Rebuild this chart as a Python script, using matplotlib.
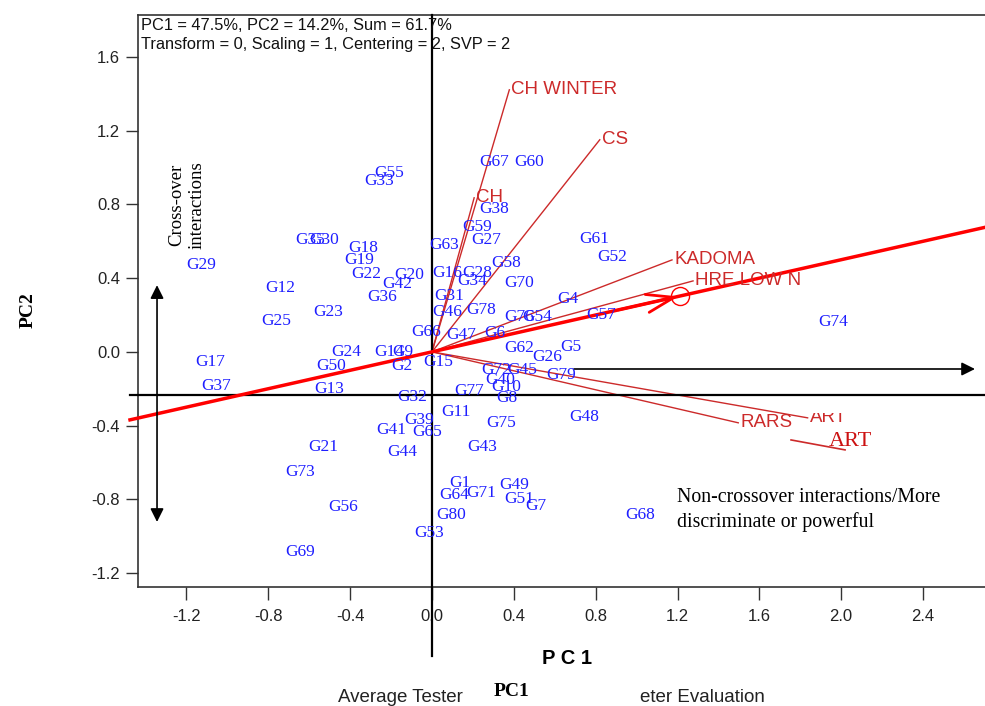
import numpy as np
import matplotlib
matplotlib.use("Agg")
import matplotlib.pyplot as plt
from matplotlib.patches import Rectangle
from matplotlib.ticker import FormatStrFormatter

plt.rcParams['font.family'] = ['Liberation Sans', 'DejaVu Sans']

# genotype scores (PC1, PC2)
geno = ['G67', 'G60', 'G55', 'G33', 'G38', 'G59', 'G27', 'G63', 'G35', 'G30',
        'G18', 'G19', 'G22', 'G20', 'G42', 'G36', 'G12', 'G25', 'G23', 'G16',
        'G28', 'G34', 'G58', 'G70', 'G31', 'G46', 'G78', 'G66', 'G24', 'G14',
        'G9', 'G2', 'G15', 'G50', 'G13', 'G32', 'G4', 'G76', 'G54', 'G57',
        'G62', 'G26', 'G5', 'G72', 'G45', 'G79', 'G40', 'G10', 'G77', 'G8',
        'G11', 'G48', 'G75', 'G43', 'G39', 'G41', 'G65', 'G21', 'G44', 'G73',
        'G1', 'G64', 'G71', 'G49', 'G51', 'G7', 'G56', 'G80', 'G53', 'G69',
        'G29', 'G17', 'G37', 'G74', 'G61', 'G52', 'G68', 'G47', 'G6']
gx = [0.304, 0.476, -0.211, -0.260, 0.304, 0.221, 0.265, 0.059, -0.594, -0.525,
      -0.334, -0.358, -0.319, -0.113, -0.172, -0.245, -0.741, -0.761, -0.506, 0.074,
      0.221, 0.196, 0.363, 0.427, 0.083, 0.074, 0.240, -0.029, -0.417, -0.211,
      -0.142, -0.147, 0.029, -0.491, -0.501, -0.098, 0.663, 0.427, 0.515, 0.829,
      0.427, 0.564, 0.677, 0.314, 0.442, 0.633, 0.334, 0.363, 0.182, 0.368,
      0.118, 0.746, 0.339, 0.245, -0.064, -0.201, -0.025, -0.530, -0.147, -0.643,
      0.137, 0.108, 0.240, 0.402, 0.427, 0.506, -0.432, 0.093, -0.015, -0.643,
      -1.129, -1.085, -1.055, 1.963, 0.795, 0.883, 1.016, 0.142, 0.309]
gy = [1.031, 1.031, 0.972, 0.928, 0.776, 0.679, 0.608, 0.581, 0.608, 0.608,
      0.565, 0.499, 0.423, 0.418, 0.369, 0.299, 0.347, 0.168, 0.217, 0.429,
      0.429, 0.385, 0.483, 0.375, 0.304, 0.217, 0.228, 0.109, 0.0, 0.0,
      0.0, -0.076, -0.054, -0.076, -0.201, -0.244, 0.288, 0.190, 0.190, 0.201,
      0.022, -0.027, 0.027, -0.098, -0.098, -0.125, -0.152, -0.190, -0.212, -0.250,
      -0.326, -0.353, -0.385, -0.516, -0.369, -0.423, -0.434, -0.516, -0.543, -0.651,
      -0.711, -0.776, -0.765, -0.722, -0.798, -0.836, -0.841, -0.885, -0.983, -1.086,
      0.472, -0.054, -0.185, 0.163, 0.613, 0.516, -0.885, 0.092, 0.103]

# environment vectors
env = ['CH WINTER', 'CH', 'CS', 'KADOMA', 'HRE LOW N', 'RARS', 'ART']
ex = [0.378, 0.206, 0.820, 1.173, 1.276, 1.497, 1.836]
ey = [1.422, 0.836, 1.151, 0.499, 0.385, -0.385, -0.358]

aea_slope = 0.25      # average environment axis
aea_pc1 = 1.21        # average environment position

xticks = np.arange(-1.2, 2.41, 0.4)
yticks = np.arange(-1.2, 1.61, 0.4)

W, H = 985, 706
fig = plt.figure(figsize=(W / 100, H / 100), dpi=100)
ax = fig.add_axes([138 / W, 1 - 587 / H, (W - 138) / W, (587 - 15) / H])
ax.set_xlim(-1.437, 2.703)
ax.set_ylim(-1.276, 1.828)
ax.spines['right'].set_visible(False)
for s in ['top', 'left', 'bottom']:
    ax.spines[s].set_color('#333333')
    ax.spines[s].set_linewidth(1.2)
ax.set_xticks(xticks)
ax.set_yticks(yticks)
ax.xaxis.set_major_formatter(FormatStrFormatter('%.1f'))
ax.yaxis.set_major_formatter(FormatStrFormatter('%.1f'))
ax.tick_params(direction='out', length=9, width=1, color='#333333', labelsize=12,
               labelcolor='#222222')
ax.tick_params(axis='x', pad=7)
ax.tick_params(axis='y', pad=4)

# PC axes through origin
ax.plot([0, 0], [1.828, -1.65], color='black', lw=1.6, clip_on=False, zorder=3)
ax.plot([-1.476, 2.703], [-0.234, -0.234], color='black', lw=1.6, clip_on=False, zorder=3)

# environment vectors
red = '#cc2a2a'
for name, x, y in zip(env, ex, ey):
    ax.plot([0, x], [0, y], color=red, lw=1, zorder=2)
    ax.text(x + 0.01, y, name, color=red, fontsize=13.5, ha='left', va='center', zorder=4)
# part of the lower ART label is hidden
ax.add_patch(Rectangle((1.86, -0.331), 0.2, 0.085, facecolor='white', edgecolor='none', zorder=5))

# average environment axis
ax.plot([-1.476, 2.703], [aea_slope * -1.476, aea_slope * 2.703], color='red', lw=2.5,
        clip_on=False, zorder=3)
ax.annotate('', xy=(aea_pc1 - 0.006, aea_slope * (aea_pc1 - 0.006)),
            xytext=(aea_pc1 - 0.3, aea_slope * (aea_pc1 - 0.3)),
            arrowprops=dict(arrowstyle='->,head_length=0.9,head_width=0.3', color='red',
                            lw=2, mutation_scale=22, shrinkA=0, shrinkB=0), zorder=3)
ax.plot(aea_pc1, aea_slope * aea_pc1, 'o', mfc='none', mec='red', ms=13, mew=1, zorder=3)

# genotypes
for name, x, y in zip(geno, gx, gy):
    ax.text(x, y, name, color='#1f1fff', fontsize=12.5, family=['Liberation Serif'],
            ha='center', va='center', zorder=4)

# hand-added annotations
ax.plot([1.755, 2.019], [-0.478, -0.532], color=red, lw=1.2, zorder=4)
ax.text(1.94, -0.489, 'ART', color='#cc1111', fontsize=16, family=['Liberation Serif'],
        ha='left', va='center', zorder=6)
ax.annotate('', xy=(2.654, -0.093), xytext=(0.694, -0.093),
            arrowprops=dict(arrowstyle='-|>', color='black', lw=1.2, mutation_scale=20,
                            shrinkA=0, shrinkB=0))
ax.annotate('', xy=(-1.344, 0.362), xytext=(-1.344, -0.923),
            arrowprops=dict(arrowstyle='<|-|>', color='black', lw=1.2, mutation_scale=20,
                            shrinkA=0, shrinkB=0))

fig.text(141 / W, 1 - 25 / H, 'PC1 = 47.5%, PC2 = 14.2%, Sum = 61.7%', fontsize=11.8,
         ha='left', va='center', color='#111111')
fig.text(141 / W, 1 - 45 / H, 'Transform = 0, Scaling = 1, Centering = 2, SVP = 2', fontsize=11.8,
         ha='left', va='center', color='#111111')
fig.text(187 / W, 1 - 205 / H, 'Cross-over\ninteractions', rotation=90, fontsize=13.5,
         family=['Liberation Serif'], ha='center', va='center', multialignment='center')
fig.text(677 / W, 1 - 497 / H, 'Non-crossover interactions/More', fontsize=14.3,
         family=['Liberation Serif'], ha='left', va='center')
fig.text(677 / W, 1 - 522 / H, 'discriminate or powerful', fontsize=14.3,
         family=['Liberation Serif'], ha='left', va='center')
fig.text(567 / W, 1 - 658 / H, 'P C 1', fontsize=14.5, fontweight='bold', ha='center', va='center')
fig.text(512 / W, 1 - 691 / H, 'PC1', fontsize=14, fontweight='bold',
         family=['Liberation Serif'], ha='center', va='center')
fig.text(338 / W, 1 - 697 / H, 'Average Tester', fontsize=13.5, ha='left', va='center',
         color='#222222')
fig.text(640 / W, 1 - 697 / H, 'eter Evaluation', fontsize=13.5, ha='left', va='center',
         color='#222222')
fig.text(28 / W, 1 - 310 / H, 'PC2', rotation=90, fontsize=14, fontweight='bold',
         family=['Liberation Serif'], ha='center', va='center')

fig.savefig('out.png', dpi=100)
